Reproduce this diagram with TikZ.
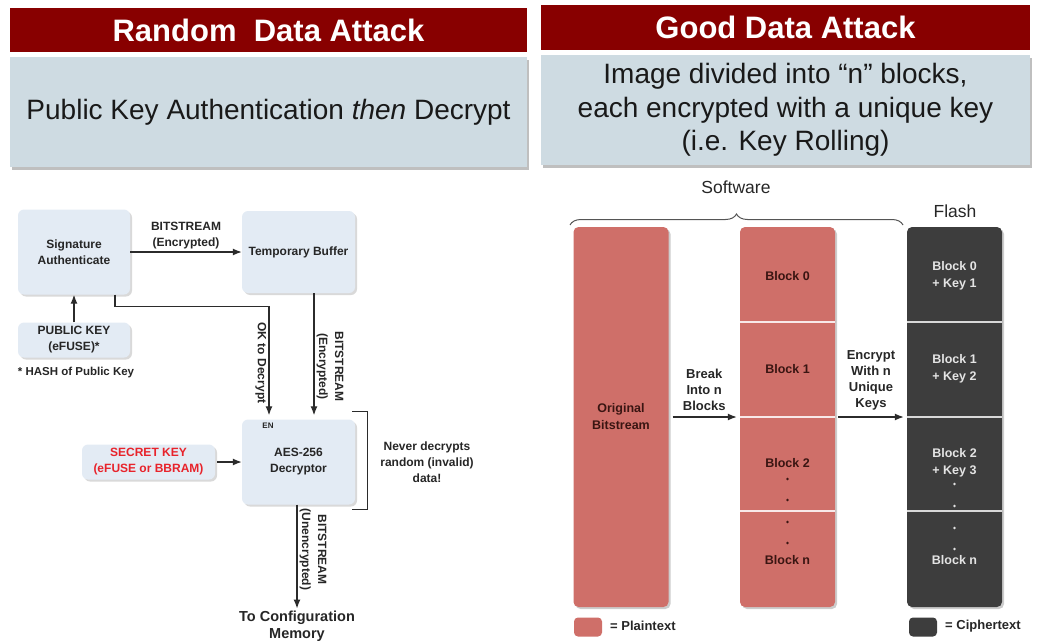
\documentclass[tikz,border=0pt]{standalone}
\usepackage{fontspec}
\setmainfont{Liberation Sans}
\usetikzlibrary{shapes,arrows.meta,positioning,shadows,decorations.pathreplacing,calc}
\definecolor{hdrred}{HTML}{880000}
\definecolor{hdrbody}{HTML}{CEDBE2}
\definecolor{boxfill}{HTML}{E3EBF4}
\definecolor{plain}{HTML}{CF6F69}
\definecolor{cipher}{HTML}{3D3D3D}
\definecolor{plaintxt}{HTML}{3A1512}
\definecolor{ciphtxt}{HTML}{E4E4E4}
\definecolor{keyred}{HTML}{E8232B}
\definecolor{wire}{HTML}{2B2B2B}

\begin{document}
\begin{tikzpicture}[x=1pt, y=-1pt,
    hdr/.style={rectangle, fill=hdrred, text=white, inner sep=0pt,
        font=\fontsize{31}{34}\selectfont\bfseries},
    hdrtxt/.style={rectangle, fill=hdrbody, text=black!90, align=center, inner sep=0pt,
        font=\fontsize{28}{33.5}\selectfont,
        drop shadow={shadow xshift=2pt, shadow yshift=-3pt, fill=black, opacity=0.25}},
    blk/.style={rectangle, rounded corners=6pt, fill=boxfill, text=black!85, align=center,
        font=\fontsize{12}{16}\selectfont\bfseries, inner sep=2pt,
        drop shadow={shadow xshift=2pt, shadow yshift=-2pt, fill=black, opacity=0.15}},
    lbl/.style={font=\fontsize{12}{16}\selectfont\bfseries, text=black!85, align=center, inner sep=2pt},
    rlbl/.style={font=\fontsize{13}{16}\selectfont\bfseries, text=black!85, align=center, inner sep=2pt},
    flow/.style={->, >={Latex[length=9pt,width=7pt]}, wire, line width=1.3pt},
    col/.style={rectangle, rounded corners=5pt, minimum width=95pt, minimum height=380pt, inner sep=0pt,
        drop shadow={shadow xshift=2pt, shadow yshift=-2pt, fill=black, opacity=0.2}},
    ptxt/.style={font=\fontsize{12.5}{17}\selectfont\bfseries, text=plaintxt, align=center, inner sep=0pt},
    ctxt/.style={font=\fontsize{12.5}{17}\selectfont\bfseries, text=ciphtxt, align=center, inner sep=0pt},
    divider/.style={white!85!plain, line width=2pt},
    legsq/.style={rectangle, rounded corners=4pt, minimum width=28pt, minimum height=19pt, inner sep=0pt},
]
\useasboundingbox (0,0) rectangle (1039,642);

% ---------- headers ----------
\node[hdr, minimum width=517pt, minimum height=44pt] (lhead) at (268.5,30) {Random\ \ Data Attack};
\node[hdrtxt, minimum width=517pt, minimum height=110pt] (lbody) at (268.5,112)
  {Public Key Authentication \textit{then} Decrypt};
\node[hdr, minimum width=489pt, minimum height=45pt] (rhead) at (785.5,27.5) {Good Data Attack};
\node[hdrtxt, minimum width=489pt, minimum height=110pt] (rbody) at (785.5,110)
  {Image divided into “n” blocks,\\each encrypted with a unique key\\(i.e. Key Rolling)};

% ---------- random data attack ----------
\node[blk, minimum width=112pt, minimum height=85pt] (sig) at (74,252) {Signature\\Authenticate};
\node[blk, minimum width=113pt, minimum height=82pt] (buf) at (298.5,252) {Temporary Buffer};
\node[blk, minimum width=112pt, minimum height=35pt] (pub) at (74,340) {PUBLIC KEY\\(eFUSE)*};
\node[lbl, font=\fontsize{11.5}{14}\selectfont\bfseries] (hash) at (76,373) {* HASH of Public Key};
\node[blk, minimum width=113pt, minimum height=85pt] (aes) at (298.5,462) {AES-256\\Decryptor};
\node[blk, minimum width=133pt, minimum height=35pt, text=keyred] (sec) at (148.5,462) {SECRET KEY\\(eFUSE or BBRAM)};
\node[lbl, font=\fontsize{8}{9}\selectfont\bfseries] (enlbl) at (268,426) {EN};
\node[lbl] (never) at (427,462) {Never decrypts\\random (invalid)\\data!};
\node[lbl, font=\fontsize{14.5}{17}\selectfont\bfseries] (cfg) at (297,626) {To Configuration\\Memory};

\draw[flow] (sig.east) -- node[lbl, above, pos=0.5] {BITSTREAM\\(Encrypted)} (buf.west);
\draw[flow] (pub.north) -- (sig.south);
\draw[flow, shorten >=4pt] ([xshift=41pt]sig.south) -- ++(0,12)
  -| node[lbl, pos=0.75, rotate=-90, anchor=north] {OK to Decrypt} ([xshift=-29.5pt]aes.north);
\draw[flow, shorten >=4pt] ([xshift=15.5pt]buf.south)
  -- node[lbl, pos=0.58, rotate=-90, anchor=south] {BITSTREAM\\(Encrypted)} ([xshift=15.5pt]aes.north);
\draw[flow, shorten <=2pt] (sec.east) -- (aes.west);
\draw[flow] ([xshift=-1.5pt]aes.south)
  -- node[lbl, pos=0.43, rotate=-90, anchor=south] {BITSTREAM\\(Unencrypted)} (cfg.north);
\draw[wire, line width=1pt] ([shift={(-3pt,8pt)}]aes.north east) -- ++(15,0) |- ([shift={(-3pt,-5pt)}]aes.south east);

% ---------- good data attack ----------
\node[font=\fontsize{17.5}{20}\selectfont, text=black!85] (sw) at (736,187) {Software};
\node[font=\fontsize{17.5}{20}\selectfont, text=black!85] (flash) at (955,211) {Flash};
\draw[wire!80, line width=1pt, decorate, decoration={brace, amplitude=11pt}] (570,225) -- (903,225);

\node[col, fill=plain] (orig) at (621,417) {};
\node[ptxt] (origtxt) at (621,416.5) {Original\\Bitstream};
\node[col, fill=plain] (blkcol) at (787.5,417) {};
\node[col, fill=cipher] (flcol) at (954.5,417) {};
\foreach \y in {322,417,511} {
  \draw[divider] (blkcol.west |- 0,\y) -- (blkcol.east |- 0,\y);
  \draw[divider, white!80!cipher] (flcol.west |- 0,\y) -- (flcol.east |- 0,\y);
}

\node[ptxt] (b0) at (787.5,276) {Block 0};
\node[ptxt] (b1) at (787.5,369) {Block 1};
\node[ptxt] (b2) at (787.5,463) {Block 2};
\node[ptxt] (bn) at (787.5,560) {Block n};
\foreach \y in {479,500,522,543} \fill[plaintxt] (787.5,\y) circle (1.3pt);

\node[ctxt] (f0) at (954.5,275.5) {Block 0\\+ Key 1};
\node[ctxt] (f1) at (954.5,368.5) {Block 1\\+ Key 2};
\node[ctxt] (f2) at (954.5,463) {Block 2\\+ Key 3};
\node[ctxt] (fn) at (954.5,560) {Block n};
\foreach \y in {484,506,528,549} \fill[ciphtxt] (954.5,\y) circle (1.3pt);

\draw[flow, shorten <=4pt, shorten >=3pt] (orig.east) -- node[rlbl, above=4pt] {Break\\Into n\\Blocks} (blkcol.west);
\draw[flow, shorten <=3pt, shorten >=3pt] (blkcol.east) -- node[rlbl, above=4pt] {Encrypt\\With n\\Unique\\Keys} (flcol.west);

% ---------- legend ----------
\node[legsq, fill=plain] (lgp) at (588,627) {};
\node[rlbl, anchor=west] (lgptxt) at (608,626) {= Plaintext};
\node[legsq, fill=cipher] (lgc) at (923,627) {};
\node[rlbl, anchor=west] (lgctxt) at (943,626) {= Ciphertext};

\end{tikzpicture}
\end{document}
